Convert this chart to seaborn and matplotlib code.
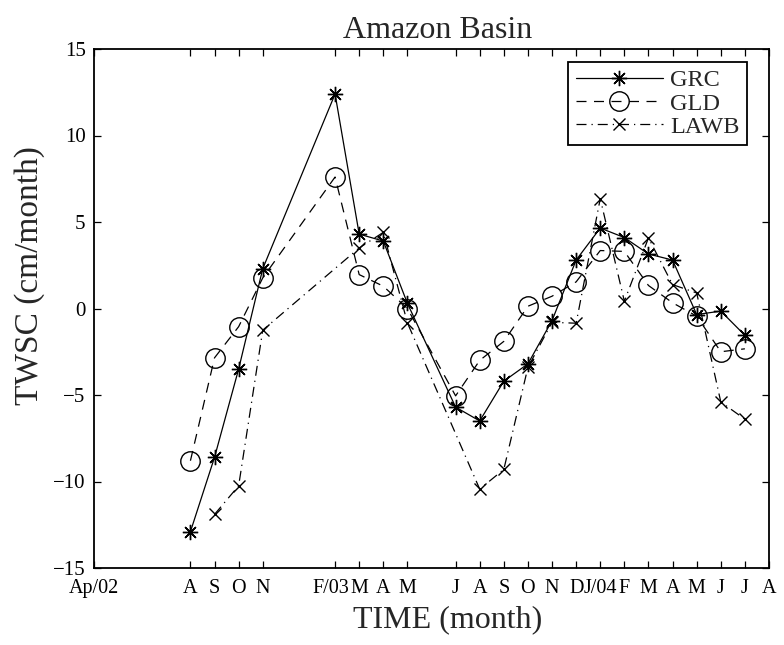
import matplotlib
matplotlib.use("Agg")
import matplotlib.pyplot as plt
import matplotlib.transforms as mtransforms
import seaborn as sns
import pandas as pd

# Month index counted from April 2002 (0 = Ap/02)
tick_months = [0, 4, 5, 6, 7, 10, 11, 12, 13, 15, 16, 17, 18, 19, 20, 21, 22, 23, 24, 25, 26, 27, 28]
tick_labels = ["Ap/02", "A", "S", "O", "N", "F/03", "M", "A", "M", "J", "A", "S", "O",
               "N", "D", "J/04", "F", "M", "A", "M", "J", "J", "A"]

grc_months = [4, 5, 6, 7, 10, 11, 12, 13, 15, 16, 17, 18, 19, 20, 21, 22, 23, 24, 25, 26, 27]
grc_values = [-12.9, -8.6, -3.5, 2.3, 12.4, 4.3, 3.9, 0.3, -5.7, -6.5, -4.2, -3.2, -0.7,
              2.8, 4.65, 4.1, 3.15, 2.8, -0.35, -0.15, -1.55]

gld_months = [4, 5, 6, 7, 10, 11, 12, 13, 15, 16, 17, 18, 19, 20, 21, 22, 23, 24, 25, 26, 27]
gld_values = [-8.8, -2.85, -1.05, 1.77, 7.6, 1.96, 1.29, 0.0, -5.05, -3.0, -1.9, 0.13, 0.71,
              1.54, 3.35, 3.3, 1.33, 0.33, -0.44, -2.5, -2.33]

lawb_months = [5, 6, 7, 11, 12, 13, 16, 17, 18, 19, 20, 21, 22, 23, 24, 25, 26, 27]
lawb_values = [-11.9, -10.25, -1.25, 3.5, 4.4, -0.83, -10.44, -9.3, -3.4, -0.8, -0.85,
               6.35, 0.42, 4.08, 1.38, 0.9, -5.4, -6.4]

sns.set_theme(style="white")
plt.rcParams["font.family"] = ["Liberation Serif", "DejaVu Serif"]
plt.rcParams["axes.unicode_minus"] = True

fig = plt.figure(figsize=(7.84, 6.45), dpi=100)
ax = fig.add_axes([94 / 784, 1 - 568 / 645, 675 / 784, 519 / 645])

series = [
    ("GRC", grc_months, grc_values,
     dict(linestyle="-", marker=(8, 2, 0), markersize=11, markeredgewidth=1.0,
          markeredgecolor="black", markerfacecolor="black")),
    ("GLD", gld_months, gld_values,
     dict(linestyle=(0, (8, 6)), marker="o", markersize=14, markeredgewidth=1.0,
          markeredgecolor="black", markerfacecolor="none")),
    ("LAWB", lawb_months, lawb_values,
     dict(linestyle=(0, (8, 4, 1, 4)), marker="x", markersize=8, markeredgewidth=1.0,
          markeredgecolor="black", markerfacecolor="black")),
]

for name, months, values, style in series:
    df = pd.DataFrame({"month": months, "twsc": values})
    sns.lineplot(data=df, x="month", y="twsc", ax=ax, color="black", linewidth=0.9,
                 errorbar=None, label=name, **style)

ax.set_xlim(0, 28)
ax.set_ylim(-15, 15)
ax.set_xticks(tick_months)
ax.set_xticklabels(tick_labels)
ax.set_yticks([-15, -10, -5, 0, 5, 10, 15])
ax.set_yticklabels(["\u221215", "\u221210", "\u22125", "0", "5", "10", "15"])

ax.tick_params(axis="both", which="both", direction="in", length=5, width=0.9,
               top=True, right=True, bottom=True, left=True,
               labelsize=15, colors="black", pad=6)
ax.tick_params(axis="x", labelsize=14.5, pad=8)
for sp in ax.spines.values():
    sp.set_visible(True)
    sp.set_color("black")
    sp.set_linewidth(1.3)

# nudge the wide "F/03" label a little so it clears its neighbour
for lab in ax.get_xticklabels():
    if lab.get_text() == "F/03":
        lab.set_transform(lab.get_transform()
                          + mtransforms.ScaledTranslation(-4 / 100, 0, fig.dpi_scale_trans))

ax.set_title("Amazon Basin", fontsize=23, x=(438 - 94) / 675, pad=8)
ax.set_xlabel("TIME (month)", fontsize=23)
ax.xaxis.set_label_coords((448 - 94) / 675, -0.072, transform=ax.transAxes)
ax.xaxis.label.set_va("top")
ax.set_ylabel("TWSC (cm/month)", fontsize=24)
ax.yaxis.set_label_coords(-(94 - 45) / 675, (568 - 276) / 519, transform=ax.transAxes)

leg = ax.legend(loc="upper right", bbox_to_anchor=((747 - 94) / 675, (568 - 62) / 519),
                borderaxespad=0, fontsize=17.5, frameon=True, fancybox=False,
                framealpha=1, edgecolor="black", handlelength=3.6,
                labelspacing=0.05, borderpad=0.3, handletextpad=0.3)
leg.get_frame().set_linewidth(1.3)

fig.savefig("out.png", dpi=100)
